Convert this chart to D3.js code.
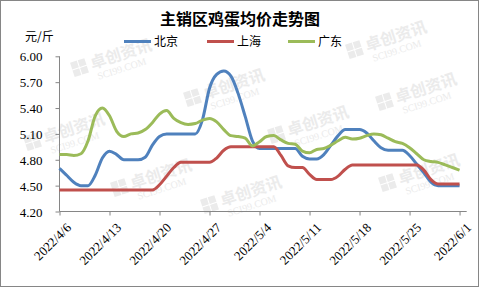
<!DOCTYPE html>
<html><head><meta charset="utf-8">
<script src="https://cdn.jsdelivr.net/npm/d3@7"></script>
<style>body{margin:0;background:#fff}svg{display:block}</style>
</head><body>
<script>
const startDate = "2022-04-06";
const endDate = "2022-06-01";
const tickLabels = ["2022/4/6","2022/4/13","2022/4/20","2022/4/27","2022/5/4","2022/5/11","2022/5/18","2022/5/25","2022/6/1"];
const yTicks = [4.20,4.50,4.80,5.10,5.40,5.70,6.00];
const seriesNames = ["北京","上海","广东"];
const beijing = [4.70,4.62,4.54,4.50,4.50,4.62,4.82,4.90,4.86,4.80,4.80,4.80,4.83,4.97,5.07,5.10,5.10,5.10,5.10,5.10,5.26,5.63,5.79,5.83,5.77,5.57,5.30,5.02,4.93,4.93,4.93,4.93,4.93,4.93,4.84,4.81,4.81,4.86,4.97,5.08,5.15,5.15,5.15,5.11,5.02,4.94,4.91,4.91,4.91,4.85,4.75,4.65,4.54,4.50,4.50,4.50,4.50];
const shanghai = [4.45,4.45,4.45,4.45,4.45,4.45,4.45,4.45,4.45,4.45,4.45,4.45,4.45,4.45,4.51,4.61,4.71,4.77,4.77,4.77,4.77,4.77,4.82,4.91,4.95,4.95,4.95,4.95,4.95,4.95,4.95,4.85,4.73,4.71,4.71,4.63,4.57,4.57,4.57,4.61,4.69,4.74,4.74,4.74,4.74,4.74,4.74,4.74,4.74,4.74,4.74,4.68,4.57,4.52,4.52,4.52,4.52];
const guangdong = [4.86,4.86,4.85,4.87,5.02,5.31,5.40,5.31,5.13,5.07,5.10,5.11,5.15,5.23,5.33,5.37,5.28,5.23,5.21,5.22,5.26,5.28,5.24,5.15,5.08,5.07,5.05,4.96,5.01,5.07,5.08,5.03,4.99,4.98,4.90,4.88,4.92,4.93,4.97,5.02,5.06,5.04,5.05,5.08,5.10,5.09,5.05,5.01,4.99,4.94,4.87,4.80,4.78,4.77,4.74,4.71,4.68];
const colors = ["#4f81bd","#c0504d","#9bbb59"];

const W = 480, H = 288;
const svg = d3.select("body").append("svg").attr("width", W).attr("height", H);

const parse = d3.timeParse("%Y-%m-%d");
const dates = d3.timeDay.range(parse(startDate), d3.timeDay.offset(parse(endDate), 1));
const x = d3.scaleTime().domain([parse(startDate), d3.timeDay.offset(parse(endDate), 1)]).range([59.5, 466.7]);
const y = d3.scaleLinear().domain([4.2, 6.0]).range([211.5, 56.3]);

// watermarks
const wm = [[75,78],[28,152],[115,198],[188,108],[205,215],[350,60],[272,145],[383,193],[380,112]];
const wg = svg.append("g").attr("fill", "#ebebeb");
wm.forEach(([wx, wy]) => {
  const g = wg.append("g").attr("transform", `translate(${wx},${wy}) rotate(-18)`);
  [[0,-16],[8,-16],[0,-8],[8,-8]].forEach(([a,b]) => g.append("rect").attr("x",a).attr("y",b).attr("width",7).attr("height",7));
  g.append("text").attr("x", 19).attr("y", -3).attr("font-family", "Noto Sans CJK SC").attr("font-weight", "bold").attr("font-size", 16).text("卓创资讯");
  g.append("text").attr("x", 22).attr("y", 9).attr("font-family", "Liberation Serif").attr("font-size", 10).text("SCI99.COM");
});

// border
svg.append("rect").attr("x", 0.5).attr("y", 0.5).attr("width", 478).attr("height", 286).attr("fill", "none").attr("stroke", "#868686");

// title
svg.append("text").attr("x", 240).attr("y", 25).attr("text-anchor", "middle")
  .attr("font-family", "Noto Sans CJK SC").attr("font-weight", "bold").attr("font-size", 16).attr("fill", "#000").text("主销区鸡蛋均价走势图");

// unit
svg.append("text").attr("x", 25).attr("y", 41).attr("font-family", "Noto Sans CJK SC").attr("font-size", 12).attr("fill", "#000").text("元/斤");

// legend
const legX = [124, 207, 288];
seriesNames.forEach((n, i) => {
  svg.append("line").attr("x1", legX[i]).attr("x2", legX[i] + 27).attr("y1", 41.5).attr("y2", 41.5).attr("stroke", colors[i]).attr("stroke-width", 3);
  svg.append("text").attr("x", legX[i] + 30).attr("y", 46).attr("font-family", "Noto Sans CJK SC").attr("font-size", 12).attr("fill", "#000").text(n);
});

// y axis
const yAxis = svg.append("g").attr("transform", "translate(59.5,0)")
  .call(d3.axisLeft(y).tickValues(yTicks).tickSize(4).tickPadding(13).tickFormat(d3.format(".2f")));
yAxis.select(".domain").attr("stroke", "#868686").attr("d", `M0,${y(6.0)}V${y(4.2)}`);
yAxis.selectAll(".tick line").attr("stroke", "#868686");
yAxis.selectAll("text").attr("font-family", "Liberation Serif").attr("font-size", 13).attr("fill", "#000").attr("dy", "0.35em");

// x axis
const tickDates = tickLabels.map(s => d3.timeParse("%Y/%m/%d")(s));
const xAxis = svg.append("g").attr("transform", `translate(0,${y(4.2)})`)
  .call(d3.axisBottom(x).tickValues(tickDates).tickSize(4).tickFormat((d, i) => tickLabels[i]));
xAxis.select(".domain").attr("stroke", "#868686").attr("d", `M${x.range()[0]},0H${x.range()[1]}`);
xAxis.selectAll(".tick line").attr("stroke", "#868686");
xAxis.selectAll("text").attr("font-family", "Liberation Serif").attr("font-size", 13).attr("fill", "#000")
  .attr("text-anchor", "end").attr("dy", null).attr("y", 0)
  .attr("transform", "translate(12,17) rotate(-45)");

// lines
const all = [beijing, shanghai, guangdong];
const line = d3.line().x((d, i) => x(dates[i])).y(d => y(d)).curve(d3.curveMonotoneX);
all.forEach((s, i) => {
  svg.append("path").datum(s).attr("d", line).attr("fill", "none").attr("stroke", colors[i]).attr("stroke-width", 3).attr("stroke-linejoin", "round");
});
</script>
</body></html>
